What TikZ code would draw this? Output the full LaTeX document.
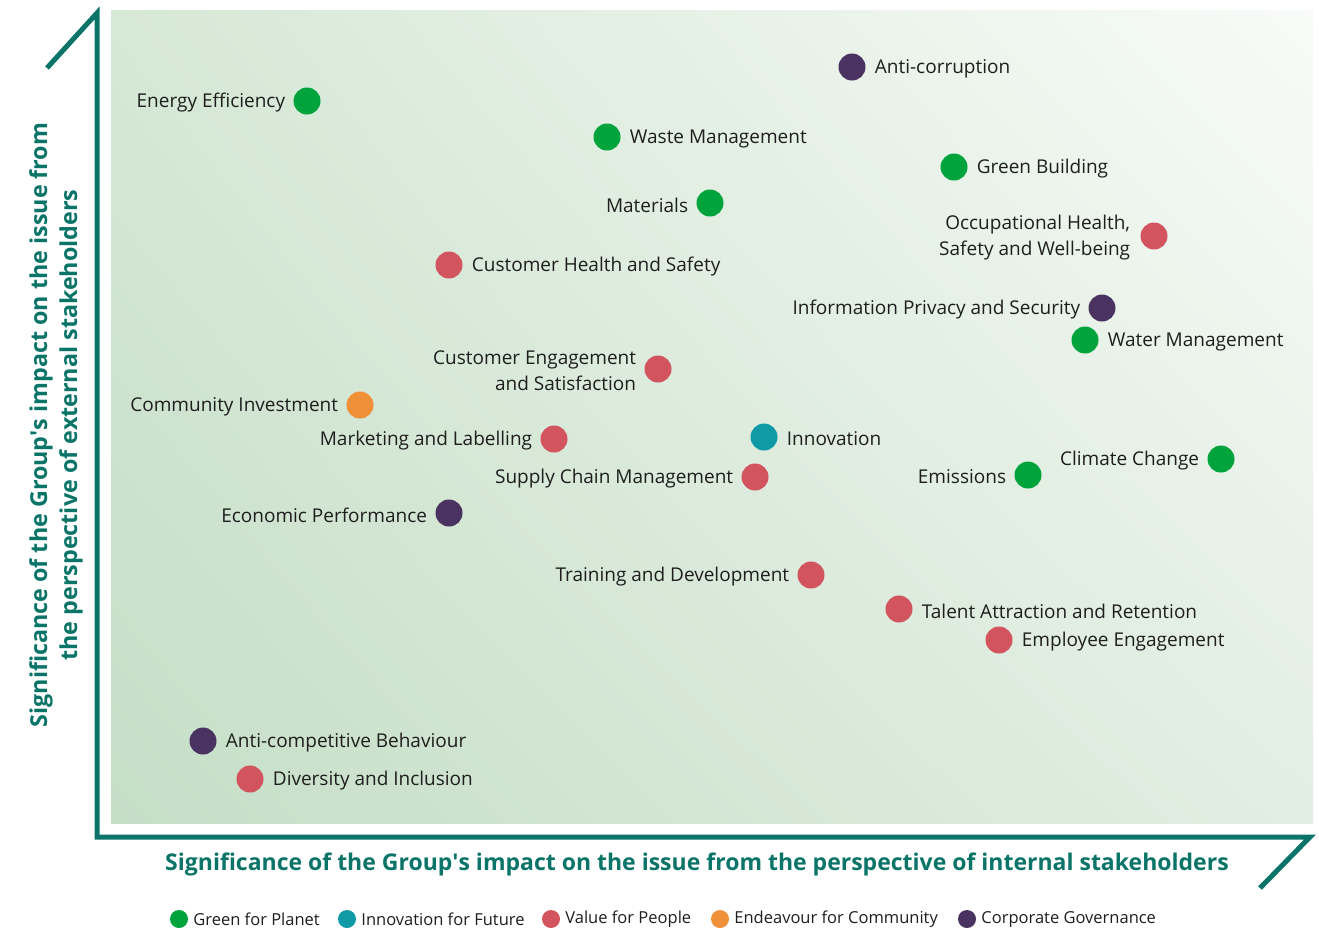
\documentclass[tikz,border=0pt]{standalone}
\usepackage{fontspec}
\setmainfont{Open Sans}
\usetikzlibrary{positioning,shadings}
\definecolor{axisteal}{RGB}{10,116,104}
\definecolor{cgreen}{RGB}{0,163,60}
\definecolor{cteal}{RGB}{16,154,166}
\definecolor{cred}{RGB}{210,84,95}
\definecolor{corange}{RGB}{240,145,58}
\definecolor{cpurple}{RGB}{74,51,96}
\definecolor{bgll}{RGB}{197,222,198}
\definecolor{bgul}{RGB}{214,232,214}
\definecolor{bglr}{RGB}{226,238,226}
\definecolor{bgur}{RGB}{248,251,248}
\definecolor{txt}{RGB}{30,30,30}
\tikzset{
  dot/.style={circle,fill=#1,minimum size=27pt,inner sep=0pt},
  ldot/.style={circle,fill=#1,minimum size=18pt,inner sep=0pt},
  lbl/.style={inner sep=0pt,text=txt,font=\fontsize{19}{26}\selectfont,align=right,yshift=-2pt},
  lbll/.style={inner sep=0pt,text=txt,font=\fontsize{16.5}{20}\selectfont},
  axisline/.style={draw=axisteal,line width=5pt},
  axtitle/.style={text=axisteal,font=\fontsize{23}{29}\bfseries\selectfont,inner sep=0pt}
}
\begin{document}
\begin{tikzpicture}[x=1pt,y=-1pt]
\useasboundingbox (0,0) rectangle (1319,930);
\shade[lower left=bgll,upper left=bgul,lower right=bglr,upper right=bgur] (111,10) rectangle (1313,823);
% axes
\coordinate (tt) at (47,68);
\coordinate (ta) at (97,13);
\coordinate (bc) at (97,837);
\coordinate (br) at (1310,837);
\coordinate (be) at (1260,888);
\draw[axisline,line join=miter] (tt) -- (ta) -- (bc) -- (br) -- (be);
\node[axtitle] (xt) at (697,864) {Significance of the Group\textquotesingle s impact on the issue from the perspective of internal stakeholders};
\node[axtitle,rotate=90,align=center,font=\fontsize{23.3}{30}\bfseries\selectfont] (yt) at (56,425) {Significance of the Group\textquotesingle s impact on the issue from\\the perspective of external stakeholders};
% points
\node[dot=cgreen] (ee) at (307,101) {};
\node[lbl,left=8pt of ee] {Energy Efficiency};
\node[dot=cpurple] (ac) at (852,67) {};
\node[lbl,right=9pt of ac] {Anti-corruption};
\node[dot=cgreen] (wm) at (607,137) {};
\node[lbl,right=9pt of wm] {Waste Management};
\node[dot=cgreen] (gb) at (954,167) {};
\node[lbl,right=9pt of gb] {Green Building};
\node[dot=cgreen] (ma) at (710,203) {};
\node[lbl,left=8pt of ma] {Materials};
\node[dot=cred] (oh) at (1154,236) {};
\node[lbl,left=10pt of oh] {Occupational Health,\\Safety and Well-being};
\node[dot=cred] (ch) at (449,265) {};
\node[lbl,right=9pt of ch] {Customer Health and Safety};
\node[dot=cpurple] (ip) at (1102,308) {};
\node[lbl,left=8pt of ip] {Information Privacy and Security};
\node[dot=cgreen] (wa) at (1085,340) {};
\node[lbl,right=9pt of wa] {Water Management};
\node[dot=cred] (ce) at (658,369) {};
\node[lbl,left=8pt of ce] {Customer Engagement\\and Satisfaction};
\node[dot=corange] (ci) at (360,405) {};
\node[lbl,left=8pt of ci] {Community Investment};
\node[dot=cred] (ml) at (554,439) {};
\node[lbl,left=8pt of ml] {Marketing and Labelling};
\node[dot=cteal] (in) at (764,437) {};
\node[lbl,right=9pt of in] {Innovation};
\node[dot=cred] (sc) at (755,477) {};
\node[lbl,left=8pt of sc] {Supply Chain Management};
\node[dot=cgreen] (em) at (1028,475) {};
\node[lbl,left=8pt of em] {Emissions};
\node[dot=cgreen] (cc) at (1221,459) {};
\node[lbl,left=8pt of cc] {Climate Change};
\node[dot=cpurple] (ep) at (449,513) {};
\node[lbl,left=8pt of ep] {Economic Performance};
\node[dot=cred] (td) at (811,575) {};
\node[lbl,left=8pt of td] {Training and Development};
\node[dot=cred] (ta2) at (899,609) {};
\node[lbl,right=9pt of ta2] {Talent Attraction and Retention};
\node[dot=cred] (eg) at (999,640) {};
\node[lbl,right=9pt of eg] {Employee Engagement};
\node[dot=cpurple] (acb) at (203,741) {};
\node[lbl,right=9pt of acb] {Anti-competitive Behaviour};
\node[dot=cred] (di) at (250,779) {};
\node[lbl,right=9pt of di] {Diversity and Inclusion};
% legend
\node[ldot=cgreen] (l1) at (179,919) {};
\node[lbll,right=5pt of l1] {Green for Planet};
\node[ldot=cteal] (l2) at (347,919) {};
\node[lbll,right=5pt of l2] {Innovation for Future};
\node[ldot=cred] (l3) at (551,919) {};
\node[lbll,right=5pt of l3] {Value for People};
\node[ldot=corange] (l4) at (720,919) {};
\node[lbll,right=5pt of l4] {Endeavour for Community};
\node[ldot=cpurple] (l5) at (967,919) {};
\node[lbll,right=5pt of l5] {Corporate Governance};
\end{tikzpicture}
\end{document}
